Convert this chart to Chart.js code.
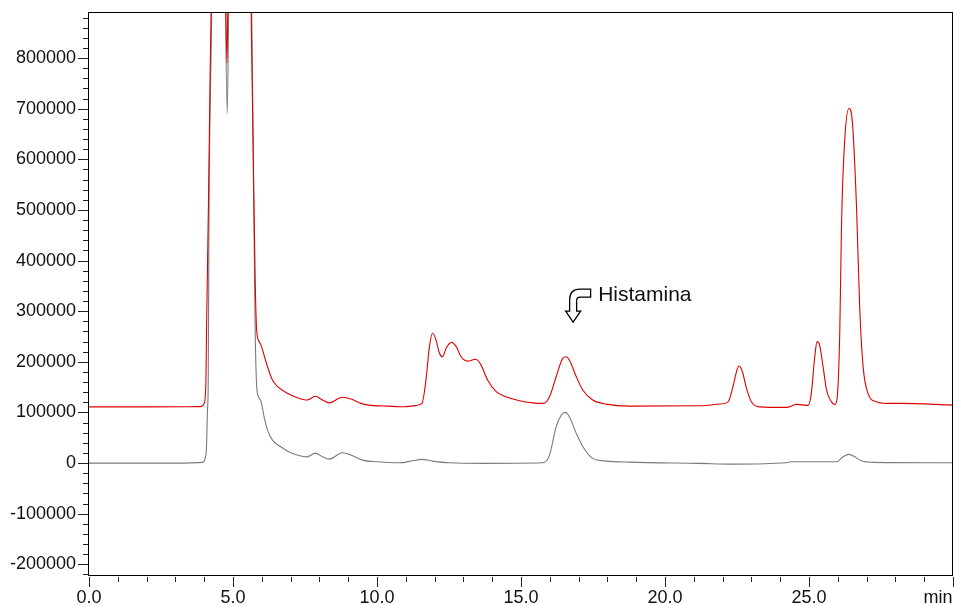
<!DOCTYPE html>
<html>
<head>
<meta charset="utf-8">
<script src="https://cdn.jsdelivr.net/npm/chart.js@4.4.0/dist/chart.umd.min.js"></script>
<style>
  html, body { margin: 0; padding: 0; background: #ffffff; }
  #wrap { width: 954px; height: 605px; }
</style>
</head>
<body>
<div id="wrap"><canvas id="c" width="954" height="605"></canvas></div>
<script>
// Retention time (min) and detector signal
const redTime = [0, 2.0, 3.88, 4.00, 4.06, 4.08, 4.15, 4.21, 4.24, 4.30, 4.70, 4.74, 4.79, 4.83, 4.90, 5.50, 5.63, 5.70, 5.77, 5.82, 5.91, 5.99, 6.08, 6.20, 6.37, 6.55, 6.89, 7.24, 7.57, 7.86, 8.11, 8.34, 8.80, 9.10, 9.44, 9.79, 10.37, 10.95, 11.24, 11.56, 11.70, 11.82, 11.93, 12.05, 12.17, 12.28, 12.40, 12.59, 12.75, 12.92, 13.15, 13.42, 13.61, 13.84, 14.14, 14.48, 14.95, 15.41, 15.78, 15.99, 16.22, 16.45, 16.57, 16.68, 16.92, 17.15, 17.49, 17.96, 18.77, 21.20, 21.90, 22.19, 22.36, 22.50, 22.57, 22.69, 22.83, 23.00, 23.29, 24.22, 24.56, 24.97, 25.08, 25.20, 25.28, 25.37, 25.49, 25.61, 25.78, 25.90, 25.98, 26.07, 26.13, 26.24, 26.39, 26.51, 26.65, 26.76, 26.88, 27.05, 27.34, 27.69, 28.15, 30];
const redSignal = [111000, 111000, 111600, 118000, 164000, 257000, 520000, 783000, 889000, 1200000, 1200000, 950000, 790000, 950000, 1200000, 1200000, 889000, 618000, 362000, 263000, 240000, 230000, 213000, 190000, 164000, 151000, 138000, 129000, 124500, 132000, 124500, 119000, 130000, 126500, 118000, 114000, 112600, 111200, 113000, 118000, 164000, 230000, 257000, 243000, 217000, 210000, 227000, 238500, 230000, 210000, 201500, 205000, 194000, 164000, 141000, 131000, 123000, 119000, 118000, 131000, 170500, 207000, 210000, 203500, 170500, 144000, 124500, 116500, 112600, 113200, 116600, 121000, 151000, 184000, 191700, 180000, 147600, 121000, 111000, 110000, 116000, 114000, 137700, 210000, 240000, 233000, 190000, 144000, 121000, 115600, 130000, 263000, 473600, 638000, 701000, 671000, 506000, 309000, 190000, 137700, 121000, 118000, 118000, 114600];

const grayTime = [0, 3.0, 3.94, 4.03, 4.08, 4.11, 4.14, 4.17, 4.23, 4.26, 4.32, 4.70, 4.74, 4.80, 4.85, 4.90, 5.50, 5.65, 5.72, 5.77, 5.82, 5.88, 5.98, 6.08, 6.20, 6.37, 6.66, 7.01, 7.57, 7.86, 8.11, 8.34, 8.80, 9.10, 9.50, 10.02, 10.78, 11.24, 11.56, 11.93, 12.51, 13.67, 15.76, 15.99, 16.22, 16.40, 16.53, 16.68, 16.92, 17.15, 17.49, 17.96, 18.77, 21.20, 22.36, 24.22, 24.39, 25.95, 26.18, 26.39, 26.59, 26.82, 27.23, 30];
const graySignal = [0, 0, 1500, 9300, 32000, 98000, 164000, 520000, 783000, 889000, 1200000, 1200000, 900000, 691000, 900000, 1200000, 1200000, 889000, 520000, 263000, 154000, 132000, 120500, 91500, 65200, 45400, 32200, 20400, 12400, 19800, 12400, 7900, 20400, 15800, 5900, 2600, 600, 4500, 7300, 4000, 600, -600, 600, 15800, 71700, 95000, 100200, 91500, 58700, 32200, 9300, 4000, 2000, -600, -2000, 600, 2600, 2600, 12400, 17200, 12400, 4500, 1400, 600];

// Tick labels / axis settings
const xTickValues = [0, 5, 10, 15, 20, 25, 30];
const xTickLabels = ['0.0', '5.0', '10.0', '15.0', '20.0', '25.0', 'min      '];
const yTickValues = [-200000, -100000, 0, 100000, 200000, 300000, 400000, 500000, 600000, 700000, 800000];
const xMin = 0, xMax = 30, xMinorStep = 1;
const yMin = -221000, yMax = 889000, yMinorStep = 20000;

// Annotation
const annotationText = 'Histamina';
const annotationTime = 16.81;
const annotationSignal = 278600;

const toPoints = (t, v) => t.map((x, i) => ({ x: x, y: v[i] }));

const FONT = '"Liberation Sans", Arial, Helvetica, sans-serif';

const framePlugin = {
  id: 'frameTicks',
  afterDraw(chart) {
    const ctx = chart.ctx;
    const a = chart.chartArea;
    const xs = chart.scales.x, ys = chart.scales.y;
    ctx.save();
    // frame
    ctx.strokeStyle = '#000';
    ctx.lineWidth = 1;
    ctx.strokeRect(Math.round(a.left) - 0.5, Math.round(a.top) - 0.5, Math.round(a.right - a.left), Math.round(a.bottom - a.top) + 1);
    // major + minor ticks through the scales
    ctx.strokeStyle = '#222';
    ctx.beginPath();
    for (let k = Math.ceil(xs.min / xMinorStep); k * xMinorStep <= xs.max + 1e-9; k++) {
      const v = k * xMinorStep;
      const px = Math.round(xs.getPixelForValue(v)) + 0.5;
      const len = xTickValues.includes(v) ? 10 : 5;
      ctx.moveTo(px, a.bottom + 2);
      ctx.lineTo(px, a.bottom + 2 + len);
    }
    for (let k = Math.ceil(ys.min / yMinorStep); k * yMinorStep <= ys.max; k++) {
      const v = k * yMinorStep;
      const py = Math.round(ys.getPixelForValue(v)) + 0.5;
      const len = yTickValues.includes(v) ? 10 : 5;
      ctx.moveTo(a.left - 1, py);
      ctx.lineTo(a.left - 1 - len, py);
    }
    ctx.stroke();

    // annotation arrow + text
    const tx = xs.getPixelForValue(annotationTime);
    const ty = ys.getPixelForValue(annotationSignal);
    const P = (dx, dy) => [tx + dx, ty + dy];
    ctx.beginPath();
    let p = P(17.5, -33); ctx.moveTo(p[0], p[1]);
    p = P(7, -33); ctx.lineTo(p[0], p[1]);
    let c = P(-3.5, -33); p = P(-3.5, -22.5); ctx.quadraticCurveTo(c[0], c[1], p[0], p[1]);
    p = P(-3.5, -11); ctx.lineTo(p[0], p[1]);
    p = P(-7.5, -11); ctx.lineTo(p[0], p[1]);
    p = P(0, 0); ctx.lineTo(p[0], p[1]);
    p = P(7.5, -11); ctx.lineTo(p[0], p[1]);
    p = P(3.5, -11); ctx.lineTo(p[0], p[1]);
    p = P(3.5, -21.5); ctx.lineTo(p[0], p[1]);
    c = P(3.5, -25); p = P(7, -25); ctx.quadraticCurveTo(c[0], c[1], p[0], p[1]);
    p = P(17.5, -25); ctx.lineTo(p[0], p[1]);
    ctx.closePath();
    ctx.fillStyle = '#fff';
    ctx.fill();
    ctx.strokeStyle = '#000';
    ctx.lineWidth = 1.3;
    ctx.stroke();

    ctx.fillStyle = '#111';
    ctx.font = '21px ' + FONT;
    ctx.textAlign = 'left';
    ctx.textBaseline = 'alphabetic';
    ctx.fillText(annotationText, tx + 25, ty - 21.5);
    ctx.restore();
  }
};

new Chart(document.getElementById('c'), {
  type: 'line',
  data: {
    datasets: [
      {
        label: 'red',
        data: toPoints(redTime, redSignal),
        borderColor: '#dd0000',
        borderWidth: 1.1,
        pointRadius: 0,
        cubicInterpolationMode: 'monotone',
        fill: false
      },
      {
        label: 'gray',
        data: toPoints(grayTime, graySignal),
        borderColor: '#7a7a7a',
        borderWidth: 1.1,
        pointRadius: 0,
        cubicInterpolationMode: 'monotone',
        fill: false
      }
    ]
  },
  options: {
    responsive: false,
    animation: false,
    devicePixelRatio: 1,
    layout: { padding: { top: 13, right: 1, left: 0, bottom: 0 } },
    plugins: { legend: { display: false }, tooltip: { enabled: false } },
    scales: {
      x: {
        type: 'linear',
        min: xMin, max: xMax,
        grid: { display: true, drawOnChartArea: false, drawTicks: false, color: 'rgba(0,0,0,0)' },
        border: { display: false },
        afterBuildTicks: (s) => { s.ticks = xTickValues.map(v => ({ value: v })); },
        ticks: {
          autoSkip: false,
          maxRotation: 0,
          padding: 12,
          color: '#111',
          font: { family: FONT, size: 18 },
          callback: (v) => {
            const i = xTickValues.indexOf(Math.round(v));
            return i >= 0 ? xTickLabels[i] : '';
          }
        },
        afterFit: (s) => { s.height = 30; s.paddingLeft = 0; s.paddingRight = 0; }
      },
      y: {
        type: 'linear',
        min: yMin, max: yMax,
        grid: { display: true, drawOnChartArea: false, drawTicks: false, color: 'rgba(0,0,0,0)' },
        border: { display: false },
        afterBuildTicks: (s) => { s.ticks = yTickValues.map(v => ({ value: v })); },
        ticks: {
          autoSkip: false,
          padding: 13,
          color: '#111',
          font: { family: FONT, size: 18 },
          callback: (v) => String(Math.round(v))
        },
        afterFit: (s) => { s.width = 89; s.paddingTop = 0; s.paddingBottom = 0; }
      }
    }
  },
  plugins: [framePlugin]
});
</script>
</body>
</html>
